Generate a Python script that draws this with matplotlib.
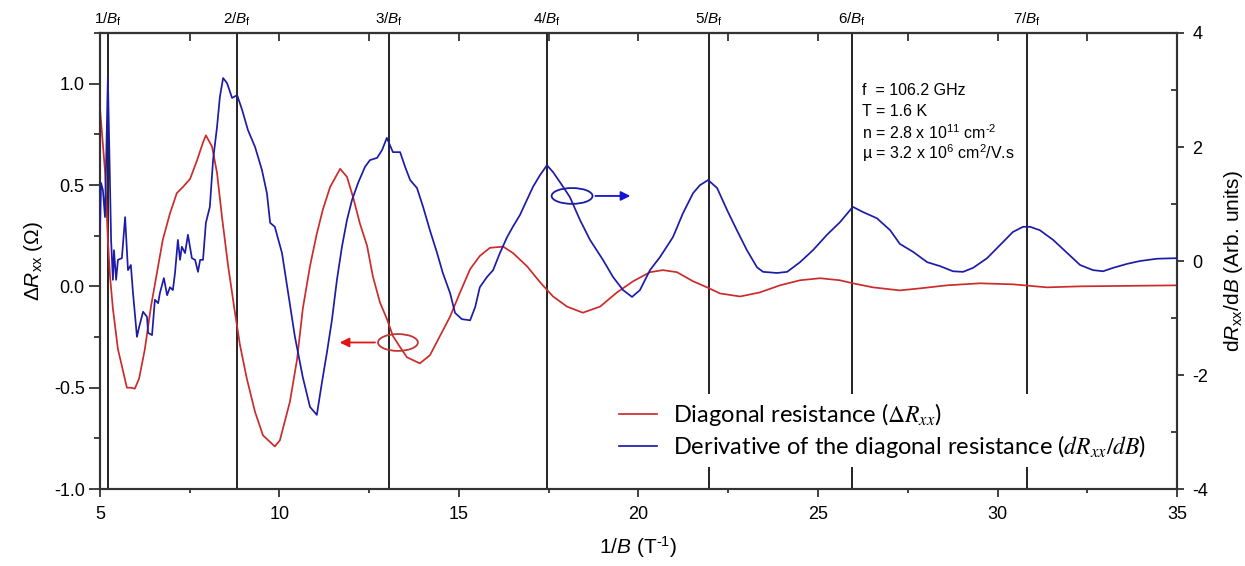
import numpy as np
import matplotlib
matplotlib.use("Agg")
import matplotlib.pyplot as plt
from matplotlib.patches import Ellipse
from matplotlib.font_manager import FontProperties
from matplotlib.ticker import MultipleLocator

plt.rcParams['font.family'] = ['Liberation Sans', 'DejaVu Sans']
plt.rcParams['mathtext.fontset'] = 'custom'
plt.rcParams['mathtext.rm'] = 'Liberation Sans'
plt.rcParams['mathtext.it'] = 'Liberation Sans:italic'
plt.rcParams['axes.unicode_minus'] = False

# diagonal resistance, left axis
inv_b_r = [5.00, 5.14, 5.22, 5.28, 5.36, 5.50, 5.58, 5.75, 5.86, 5.97, 6.09, 6.25, 6.42,
           6.59, 6.75, 6.95, 7.14, 7.31, 7.51, 7.70, 7.87, 7.95, 8.12, 8.26, 8.40, 8.57,
           8.76, 8.90, 9.09, 9.32, 9.54, 9.87, 10.01, 10.29, 10.49, 10.65, 10.85, 11.04,
           11.21, 11.41, 11.69, 11.88, 12.05, 12.24, 12.44, 12.60, 12.80, 12.99, 13.16,
           13.36, 13.55, 13.91, 14.19, 14.47, 14.75, 15.03, 15.31, 15.58, 15.86, 16.23,
           16.50, 16.89, 17.26, 17.62, 18.01, 18.45, 18.93, 19.40, 19.85, 20.32, 20.68,
           21.07, 21.52, 21.91, 22.27, 22.83, 23.38, 23.94, 24.50, 25.06, 25.61, 25.97,
           26.53, 27.28, 27.84, 28.59, 29.51, 30.43, 31.38, 32.30, 35.00]
delta_rxx = [0.88, 0.57, 0.23, 0.05, -0.11, -0.31, -0.37, -0.50, -0.50, -0.505, -0.455,
             -0.31, -0.10, 0.07, 0.23, 0.36, 0.46, 0.49, 0.53, 0.62, 0.71, 0.745, 0.69,
             0.56, 0.34, 0.10, -0.13, -0.29, -0.455, -0.62, -0.735, -0.79, -0.76, -0.57,
             -0.36, -0.11, 0.10, 0.26, 0.38, 0.49, 0.58, 0.54, 0.44, 0.31, 0.20, 0.05,
             -0.08, -0.16, -0.245, -0.30, -0.35, -0.38, -0.34, -0.245, -0.15, -0.03,
             0.085, 0.15, 0.19, 0.196, 0.165, 0.10, 0.02, -0.05, -0.10, -0.13, -0.10,
             -0.03, 0.025, 0.07, 0.08, 0.07, 0.025, -0.005, -0.035, -0.05, -0.03, 0.005,
             0.03, 0.04, 0.03, 0.015, -0.005, -0.02, -0.01, 0.005, 0.015, 0.01, -0.005,
             0.0, 0.005]

# derivative, right axis
inv_b_d = [5.00, 5.03, 5.08, 5.14, 5.22, 5.31, 5.36, 5.39, 5.45, 5.50, 5.61, 5.70, 5.78,
           5.86, 5.92, 6.03, 6.09, 6.20, 6.31, 6.34, 6.45, 6.53, 6.62, 6.67, 6.78, 6.87,
           6.95, 7.03, 7.09, 7.17, 7.23, 7.28, 7.37, 7.45, 7.56, 7.65, 7.73, 7.79, 7.87,
           7.95, 8.06, 8.15, 8.26, 8.34, 8.43, 8.54, 8.68, 8.82, 8.96, 9.12, 9.32, 9.51,
           9.65, 9.74, 9.87, 10.07, 10.24, 10.43, 10.65, 10.85, 11.04, 11.18, 11.32,
           11.46, 11.60, 11.74, 11.88, 12.02, 12.19, 12.38, 12.52, 12.72, 12.86, 12.99,
           13.16, 13.36, 13.50, 13.64, 13.83, 14.00, 14.19, 14.39, 14.55, 14.75, 14.89,
           15.08, 15.31, 15.45, 15.58, 15.78, 15.95, 16.14, 16.34, 16.50, 16.70, 16.89,
           17.06, 17.26, 17.45, 17.62, 17.87, 18.09, 18.37, 18.65, 19.01, 19.29, 19.57,
           19.82, 20.04, 20.32, 20.60, 20.96, 21.24, 21.52, 21.71, 21.94, 22.19, 22.47,
           22.74, 23.02, 23.30, 23.47, 23.86, 24.14, 24.50, 24.86, 25.25, 25.61, 25.97,
           26.25, 26.64, 27.01, 27.28, 27.65, 28.04, 28.40, 28.76, 29.04, 29.32, 29.71,
           30.07, 30.43, 30.71, 30.91, 31.18, 31.55, 31.94, 32.30, 32.66, 32.94, 33.22,
           33.61, 33.97, 34.44, 35.00]
drxx_db = [0.49, 1.37, 1.25, 0.77, 3.23, 0.37, -0.33, 0.19, -0.33, 0.02, 0.05, 0.77,
           -0.16, -0.07, -0.56, -1.33, -1.16, -0.89, -0.98, -1.26, -1.30, -0.68, -0.74,
           -0.56, -0.30, -0.60, -0.46, -0.51, -0.21, 0.37, 0.02, 0.25, 0.14, 0.46, 0.05,
           0.02, -0.19, 0.02, 0.02, 0.67, 0.95, 1.77, 2.35, 2.88, 3.21, 3.12, 2.86, 2.91,
           2.65, 2.30, 2.00, 1.60, 1.19, 0.67, 0.60, 0.14, -0.56, -1.33, -2.04, -2.56,
           -2.70, -2.14, -1.61, -1.04, -0.33, 0.25, 0.72, 1.07, 1.37, 1.65, 1.77, 1.81,
           1.95, 2.16, 1.91, 1.91, 1.65, 1.42, 1.28, 0.95, 0.54, 0.14, -0.21, -0.56,
           -0.91, -1.02, -1.04, -0.81, -0.46, -0.28, -0.16, 0.14, 0.42, 0.60, 0.81, 1.07,
           1.30, 1.51, 1.68, 1.56, 1.33, 1.12, 0.72, 0.37, 0.02, -0.28, -0.51, -0.63,
           -0.51, -0.16, 0.07, 0.42, 0.84, 1.19, 1.33, 1.42, 1.28, 0.89, 0.54, 0.19,
           -0.11, -0.19, -0.21, -0.19, -0.02, 0.19, 0.46, 0.68, 0.95, 0.86, 0.75, 0.54,
           0.30, 0.16, -0.02, -0.09, -0.18, -0.19, -0.12, 0.05, 0.28, 0.51, 0.60, 0.60,
           0.54, 0.37, 0.14, -0.07, -0.16, -0.18, -0.12, -0.05, 0.00, 0.04, 0.05]

# positions of n/B_f
harmonic_pos = [5.22, 8.82, 13.05, 17.45, 21.96, 25.95, 30.82]
harmonic_labels = [r'%d/$B_\mathrm{f}$' % n for n in range(1, 8)]

params = ['f  = 106.2 GHz',
          'T = 1.6 K',
          r'n = 2.8 x 10$^{11}$ cm$^{\text{-}2}$',
          r'µ = 3.2 x 10$^{6}$ cm$^{2}$/V.s']

red = '#cc2b2b'
blue = '#1c1ca8'
axc = '#333333'

fig = plt.figure(figsize=(12.45, 5.66), dpi=100)
ax = fig.add_axes([0.0803, 0.136, 0.8651, 0.8057])
ax2 = ax.twinx()

l1, = ax.plot(inv_b_r, delta_rxx, color=red, lw=1.25, zorder=3)
l2, = ax2.plot(inv_b_d, drxx_db, color=blue, lw=1.25, zorder=3)

ax.set_xlim(5, 35)
ax.set_ylim(-1.0, 1.25)
ax2.set_ylim(-4, 4)

for xp, lab in zip(harmonic_pos, harmonic_labels):
    ax.axvline(xp, color='#222222', lw=1.4, zorder=2)
    ax.text(xp, 1.012, lab, transform=ax.get_xaxis_transform(), ha='center', va='bottom',
            fontsize=11)

ax.xaxis.set_major_locator(MultipleLocator(5))
ax.xaxis.set_minor_locator(MultipleLocator(2.5))
ax.yaxis.set_major_locator(MultipleLocator(0.5))
ax.yaxis.set_minor_locator(MultipleLocator(0.25))
ax.yaxis.set_major_formatter(matplotlib.ticker.FormatStrFormatter('%.1f'))
ax2.yaxis.set_major_locator(MultipleLocator(2))
ax2.yaxis.set_minor_locator(MultipleLocator(1))

for a in (ax, ax2):
    for s in a.spines.values():
        s.set_linewidth(1.5)
        s.set_color(axc)
ax.tick_params(axis='x', which='major', direction='out', length=6, width=1.3, color=axc,
               labelsize=13, pad=6)
ax.tick_params(axis='x', which='minor', direction='out', length=3, width=1.3, color=axc)
ax.tick_params(axis='y', which='major', direction='out', length=8, width=1.3, color=axc,
               labelsize=13, pad=3)
ax.tick_params(axis='y', which='minor', direction='out', length=4, width=1.3, color=axc)
ax2.tick_params(axis='y', which='major', direction='out', length=5, width=1.3, color=axc,
                labelsize=13, pad=6)
ax2.tick_params(axis='y', which='minor', direction='in', length=4, width=1.3, color=axc)

# top ticks point inward
sec = ax.secondary_xaxis('top')
sec.xaxis.set_major_locator(MultipleLocator(2.5))
sec.tick_params(axis='x', direction='in', length=6, width=1.3, color=axc, labeltop=False)
sec.spines['top'].set_linewidth(1.5)
sec.spines['top'].set_color(axc)
ax.tick_params(axis='x', which='both', top=False)

ax.set_xlabel(r'1/$B$ (T$^{\text{-}1}$)', fontsize=15, labelpad=8)
ax.set_ylabel(r'$\Delta R_\mathrm{xx}$ ($\Omega$)', fontsize=15, labelpad=6)
ax2.set_ylabel(r'd$R_\mathrm{xx}$/d$B$ (Arb. units)', fontsize=15, labelpad=10)

for i, s in enumerate(params):
    ax.text(0.7075, 0.875 - i * 0.0465, s, transform=ax.transAxes, fontsize=11.5,
            ha='left', va='center')

# arrows pointing each curve to its axis
ax.add_patch(Ellipse((13.30, -0.277), 1.11, 0.083, fill=False, ec='#c03535', lw=1.3, zorder=4))
ax.annotate('', xy=(11.6, -0.277), xytext=(12.74, -0.277),
            arrowprops=dict(arrowstyle='-|>', color='#e01515', lw=1.3, mutation_scale=14))
ax.add_patch(Ellipse((18.15, 0.446), 1.14, 0.078, fill=False, ec=blue, lw=1.3, zorder=4))
ax.annotate('', xy=(19.85, 0.446), xytext=(18.72, 0.446),
            arrowprops=dict(arrowstyle='-|>', color='#1515d0', lw=1.3, mutation_scale=14))

leg_font = FontProperties(family='Lato', size=17, math_fontfamily='stix')
leg = ax2.legend([l1, l2],
                 [r'Diagonal resistance ($\Delta R_{xx}$)',
                  r'Derivative of the diagonal resistance ($dR_{xx}/dB$)'],
                 loc='lower right', bbox_to_anchor=(0.978, 0.048), prop=leg_font,
                 frameon=True, facecolor='white', edgecolor='none', framealpha=1,
                 fancybox=False, handlelength=1.6, handletextpad=0.7, labelspacing=0.22,
                 borderpad=0.3, borderaxespad=0)
leg.set_zorder(10)

fig.savefig('out.png', dpi=100)
